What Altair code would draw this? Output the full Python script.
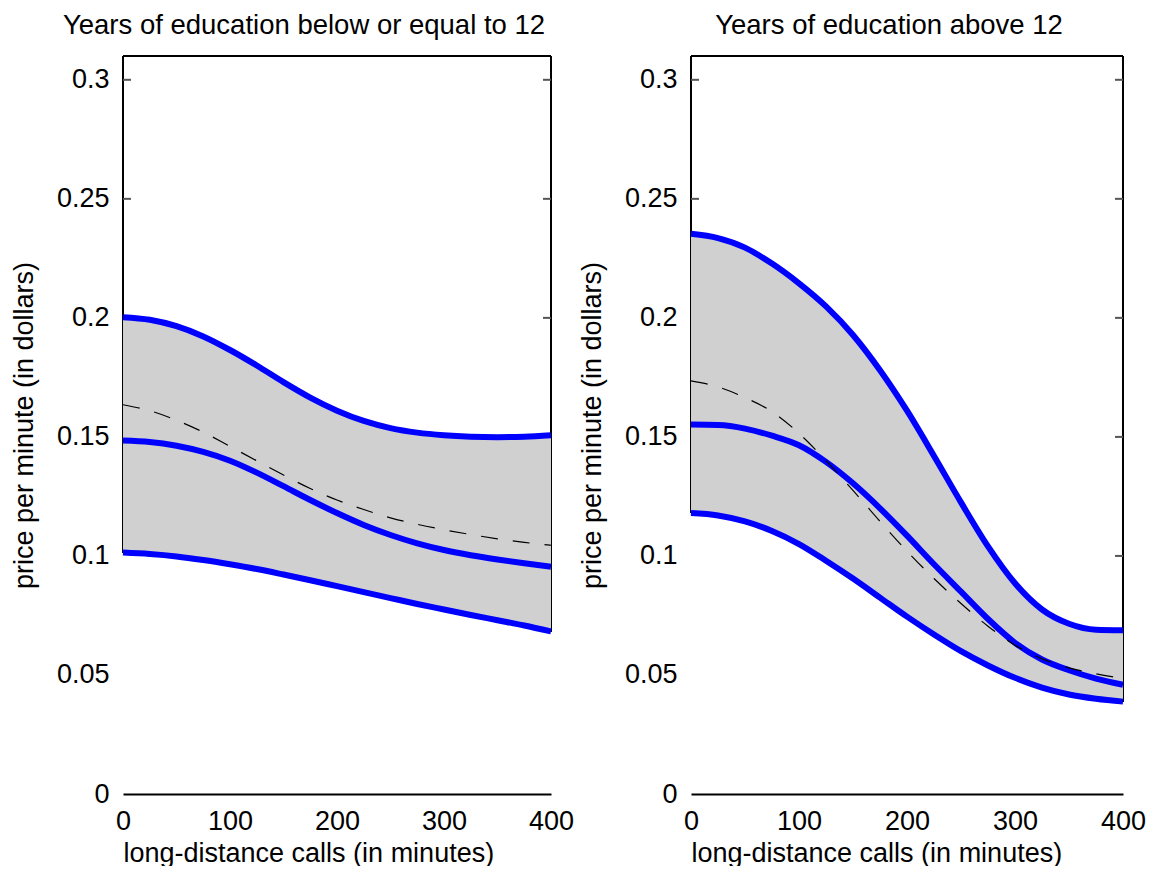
import altair as alt
import pandas as pd

# long-distance calls (in minutes)
x_min = [0, 25, 50, 75, 100, 125, 150, 175, 200, 225, 250, 275, 300, 325, 350, 375, 400]

# Years of education below or equal to 12
left_upper = [0.2003, 0.1992, 0.1965, 0.1922, 0.1865, 0.1800, 0.1730, 0.1665, 0.1610, 0.1567,
              0.1537, 0.1518, 0.1507, 0.1501, 0.1499, 0.1501, 0.1507]
left_middle = [0.1485, 0.1479, 0.1463, 0.1437, 0.1400, 0.1350, 0.1293, 0.1235, 0.1180, 0.1130,
               0.1088, 0.1053, 0.1025, 0.1003, 0.0985, 0.0969, 0.0955]
left_lower = [0.1014, 0.1008, 0.0998, 0.0983, 0.0965, 0.0945, 0.0922, 0.0898, 0.0873, 0.0848,
              0.0823, 0.0798, 0.0775, 0.0752, 0.0730, 0.0708, 0.0683]
left_dashed = [0.1635, 0.1610, 0.1570, 0.1520, 0.1460, 0.1400, 0.1340, 0.1283, 0.1235, 0.1195,
               0.1160, 0.1133, 0.1110, 0.1090, 0.1072, 0.1057, 0.1045]

# Years of education above 12
right_upper = [0.2353, 0.2335, 0.2295, 0.2228, 0.2145, 0.2048, 0.1928, 0.1780, 0.1610, 0.1420,
               0.1225, 0.1040, 0.0885, 0.0775, 0.0715, 0.0690, 0.0688]
right_middle = [0.1552, 0.1550, 0.1535, 0.1505, 0.1465, 0.1395, 0.1305, 0.1200, 0.1085, 0.0965,
                0.0850, 0.0735, 0.0635, 0.0565, 0.0520, 0.0485, 0.0459]
right_lower = [0.1180, 0.1170, 0.1145, 0.1105, 0.1050, 0.0980, 0.0905, 0.0825, 0.0745, 0.0670,
               0.0600, 0.0540, 0.0488, 0.0447, 0.0418, 0.0400, 0.0388]
right_dashed = [0.1735, 0.1710, 0.1665, 0.1606, 0.1515, 0.1400, 0.1275, 0.1145, 0.1020, 0.0905,
                0.0800, 0.0705, 0.0625, 0.0568, 0.0530, 0.0505, 0.0485]

y_ticks = [0, 0.05, 0.1, 0.15, 0.2, 0.25, 0.3]
x_ticks = [0, 100, 200, 300, 400]
Y_MAX = 0.31
X_MAX = 400

FONT = "Liberation Sans"
FS = 27
H = 738


def panel(title, upper, middle, lower, dashed, width, title_dx):
    df = pd.DataFrame({"x": x_min, "upper": upper, "middle": middle,
                       "lower": lower, "dashed": dashed})
    xscale = alt.Scale(domain=[0, X_MAX], nice=False, zero=False)
    yscale = alt.Scale(domain=[0, Y_MAX], nice=False, zero=False)
    xenc = alt.X("x:Q", scale=xscale,
                 axis=alt.Axis(values=x_ticks, title="long-distance calls (in minutes)",
                               titleAnchor="start", domain=True, domainColor="black",
                               domainWidth=2, ticks=False, grid=False, labelPadding=14,
                               titlePadding=6, labelFlush=False))
    yaxis = alt.Axis(values=y_ticks, title="price per minute (in dollars)", format="~g",
                     domain=False, ticks=False, grid=False, labelPadding=14,
                     titlePadding=18)

    base = alt.Chart(df)

    frame_top = alt.Chart(df).mark_rule(color="black", strokeWidth=2).encode(
        x=alt.datum(0, scale=xscale), x2=alt.datum(X_MAX), y=alt.datum(Y_MAX, scale=yscale, axis=yaxis))
    spine_left = alt.Chart(df).mark_rule(color="black", strokeWidth=2).encode(
        x=alt.datum(0), y=alt.datum(Y_MAX), y2=alt.datum(lower[0]))
    spine_right = alt.Chart(df).mark_rule(color="black", strokeWidth=2).encode(
        x=alt.datum(X_MAX), y=alt.datum(Y_MAX), y2=alt.datum(lower[-1]))

    lt = pd.DataFrame({"v": [v for v in y_ticks if v > lower[0]]})
    rt = pd.DataFrame({"v": [v for v in y_ticks if v > lower[-1]]})
    ticks_left = alt.Chart(lt).mark_rule(color="#555555", strokeWidth=2).encode(
        x=alt.value(0), x2=alt.value(8), y="v:Q")
    ticks_right = alt.Chart(rt).mark_rule(color="#555555", strokeWidth=2).encode(
        x=alt.value(width - 8), x2=alt.value(width), y="v:Q")

    band = base.mark_area(color="#d0d0d0", interpolate="monotone").encode(
        x=xenc, y=alt.Y("lower:Q", scale=yscale, axis=yaxis), y2="upper:Q")
    blue = base.transform_fold(["upper", "middle", "lower"], as_=["k", "val"]).mark_line(
        color="#0000ff", strokeWidth=6, interpolate="monotone").encode(
        x="x:Q", y="val:Q", detail="k:N")
    dash = base.mark_line(color="black", strokeWidth=1.2, strokeDash=[17, 15],
                          interpolate="monotone").encode(x="x:Q", y="dashed:Q")

    return alt.layer(frame_top, spine_left, spine_right, ticks_left, ticks_right,
                     band, blue, dash).properties(
        width=width, height=H,
        title=alt.TitleParams(title, dx=title_dx, fontSize=27.5, fontWeight="normal",
                              font=FONT, color="black", offset=16))


left = panel("Years of education below or equal to 12", left_upper, left_middle,
             left_lower, left_dashed, 428, -33)
right = panel("Years of education above 12", right_upper, right_middle,
              right_lower, right_dashed, 432, -18)

chart = alt.hconcat(left, right, spacing=4).properties(
    padding={"left": 2, "top": 3, "right": 0, "bottom": 0}
).configure(font=FONT).configure_view(stroke=None).configure_axis(
    labelFont=FONT, titleFont=FONT, labelFontSize=FS, titleFontSize=FS,
    labelColor="black", titleColor="black", titleFontWeight="normal"
)

chart.save("out.html", embed_options={"renderer": "svg", "actions": False})
